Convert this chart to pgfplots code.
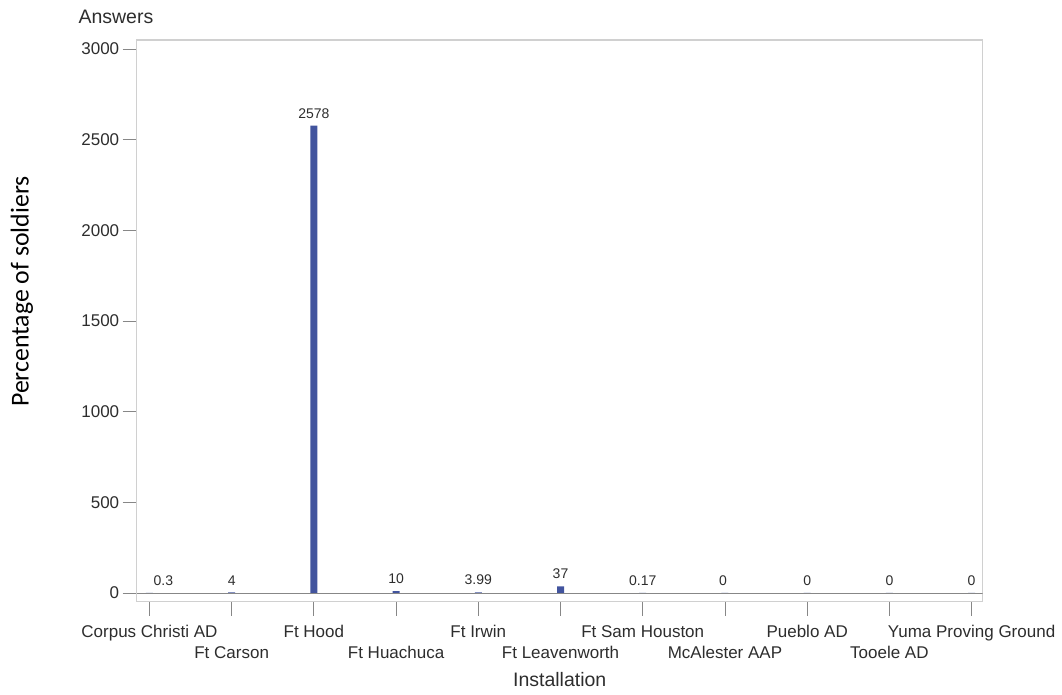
\documentclass[border=0pt]{standalone}
\usepackage{pgfplots}
\pgfplotsset{compat=1.18}
\usepackage{fontspec}
\setmainfont{Liberation Sans}
\newfontfamily\calib{Carlito}
\definecolor{barblue}{RGB}{66,84,158}
\definecolor{framegray}{RGB}{208,208,208}
\definecolor{tickgray}{RGB}{135,135,135}
\definecolor{txt}{RGB}{45,45,45}
\begin{document}
\begin{tikzpicture}
\path[use as bounding box] (0,0) rectangle (1062pt,695pt);
\begin{axis}[
  at={(136.7pt,93.3pt)}, anchor=south west,
  width=846pt, height=561.7pt, scale only axis,
  xmin=-0.155, xmax=10.135, ymin=-48, ymax=3050,
  axis line style={framegray, line width=1.3pt},
  tick align=outside, major tick length=14pt,
  tick style={tickgray, line width=0.9pt},
  xtick pos=bottom, ytick pos=left,
  ytick={0,500,1000,1500,2000,2500,3000},
  xtick={0,1,2,3,4,5,6,7,8,9,10},
  xticklabels={{\strut Corpus Christi AD},{\strut\\\strut Ft Carson},{\strut Ft Hood},{\strut\\\strut Ft Huachuca},{\strut Ft Irwin},{\strut\\\strut Ft Leavenworth},{\strut Ft Sam Houston},{\strut\\\strut McAlester AAP},{\strut Pueblo AD},{\strut\\\strut Tooele AD},{\strut Yuma Proving Ground}},
  xticklabel style={font=\fontsize{17}{21}\selectfont, align=center, text=txt, yshift=-4pt},
  yticklabel style={font=\fontsize{17}{20}\selectfont, text=txt},
  /pgf/number format/assume math mode=true,
  /pgf/number format/1000 sep={},
  scaled y ticks=false,
  ybar, bar width=7pt,
  nodes near coords, point meta=explicit symbolic,
  visualization depends on={\thisrow{dx} \as \dx},
  every node near coord/.append style={font=\fontsize{14}{16}\selectfont, text=txt, anchor=south, inner sep=0pt, yshift=7pt, xshift=\dx pt},
]
\addplot[fill=barblue, draw=none] table[x=x, y=y, meta=lab] {
x y lab dx
0 0.3 0.3 14
1 4 4 0
2 2578 2578 0
3 10 10 0
4 3.99 3.99 0
5 37 37 0
6 0.17 0.17 0
7 0 0 -2
8 0 0 0
9 0 0 0
10 0 0 0
};
\draw[tickgray, line width=0.9pt] (axis cs:-0.155,0) -- (axis cs:10.135,0);
\end{axis}
\node[anchor=base west, font=\fontsize{19.5}{23}\selectfont, text=txt, inner sep=0pt] at (78.3pt,671pt) {Answers};
\node[anchor=base, font=\fontsize{19.5}{23}\selectfont, text=txt, inner sep=0pt] at (559.7pt,8pt) {Installation};
\node[rotate=90, font=\calib\fontsize{25.8}{30}\selectfont, text=black, inner sep=0pt] at (22pt,403.5pt) {Percentage of soldiers};
\end{tikzpicture}
\end{document}
